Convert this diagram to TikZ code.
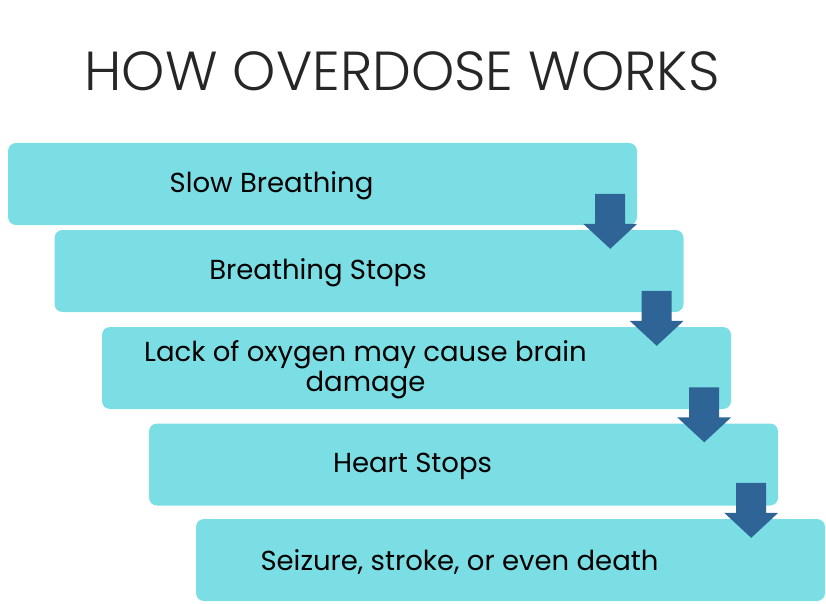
\documentclass[tikz,border=0pt]{standalone}
\usepackage{fontspec}
\setmainfont{Poppins}
\newfontfamily\titlefont{Poppins Light}
\usetikzlibrary{calc}
\definecolor{stepfill}{RGB}{124,222,229}
\definecolor{stepdown}{RGB}{46,100,150}
\definecolor{titlegray}{RGB}{38,38,38}
\tikzset{
  stepbox/.style={fill=stepfill, rounded corners=8pt, minimum width=629pt,
    minimum height=82pt, inner sep=0pt},
  steptext/.style={font=\fontsize{27.5}{30}\selectfont, align=center, inner sep=0pt},
  downarrow/.style={fill=stepdown},
}
\begin{document}
\begin{tikzpicture}[x=1pt, y=-1pt]
	\useasboundingbox (0,0) rectangle (826,604);
	\node[font=\titlefont\fontsize{55}{55}\selectfont, text=titlegray] (title) at (402,71) {HOW OVERDOSE WORKS};
	\node[stepbox] (b1) at (322.5,184) {};
	\node[stepbox] (b2) at (369,271) {};
	\node[stepbox] (b3) at (416.5,368) {};
	\node[stepbox] (b4) at (463.5,464.5) {};
	\node[stepbox] (b5) at (510.5,560) {};
	\node[steptext] (t1) at ($(b1.center)+(-51,2)$) {Slow Breathing};
	\node[steptext] (t2) at ($(b2.center)+(-51,2)$) {Breathing Stops};
	\node[steptext] (t3) at ($(b3.center)+(-51,2)$) {Lack of oxygen may cause brain\\damage};
	\node[steptext] (t4) at ($(b4.center)+(-51,2)$) {Heart Stops};
	\node[steptext] (t5) at ($(b5.center)+(-51,2)$) {Seizure, stroke, or even death};
	\foreach \a/\b in {b1/b2, b2/b3, b3/b4, b4/b5} {
		\coordinate (tip) at ($(\a.south east |- \b.north)+(-27,19)$);
		\fill[downarrow] (tip) -- ++(-27,-25) -- ++(12,0) -- ++(0,-30) --
			++(30,0) -- ++(0,30) -- ++(12,0) -- cycle;
	}
\end{tikzpicture}
\end{document}
